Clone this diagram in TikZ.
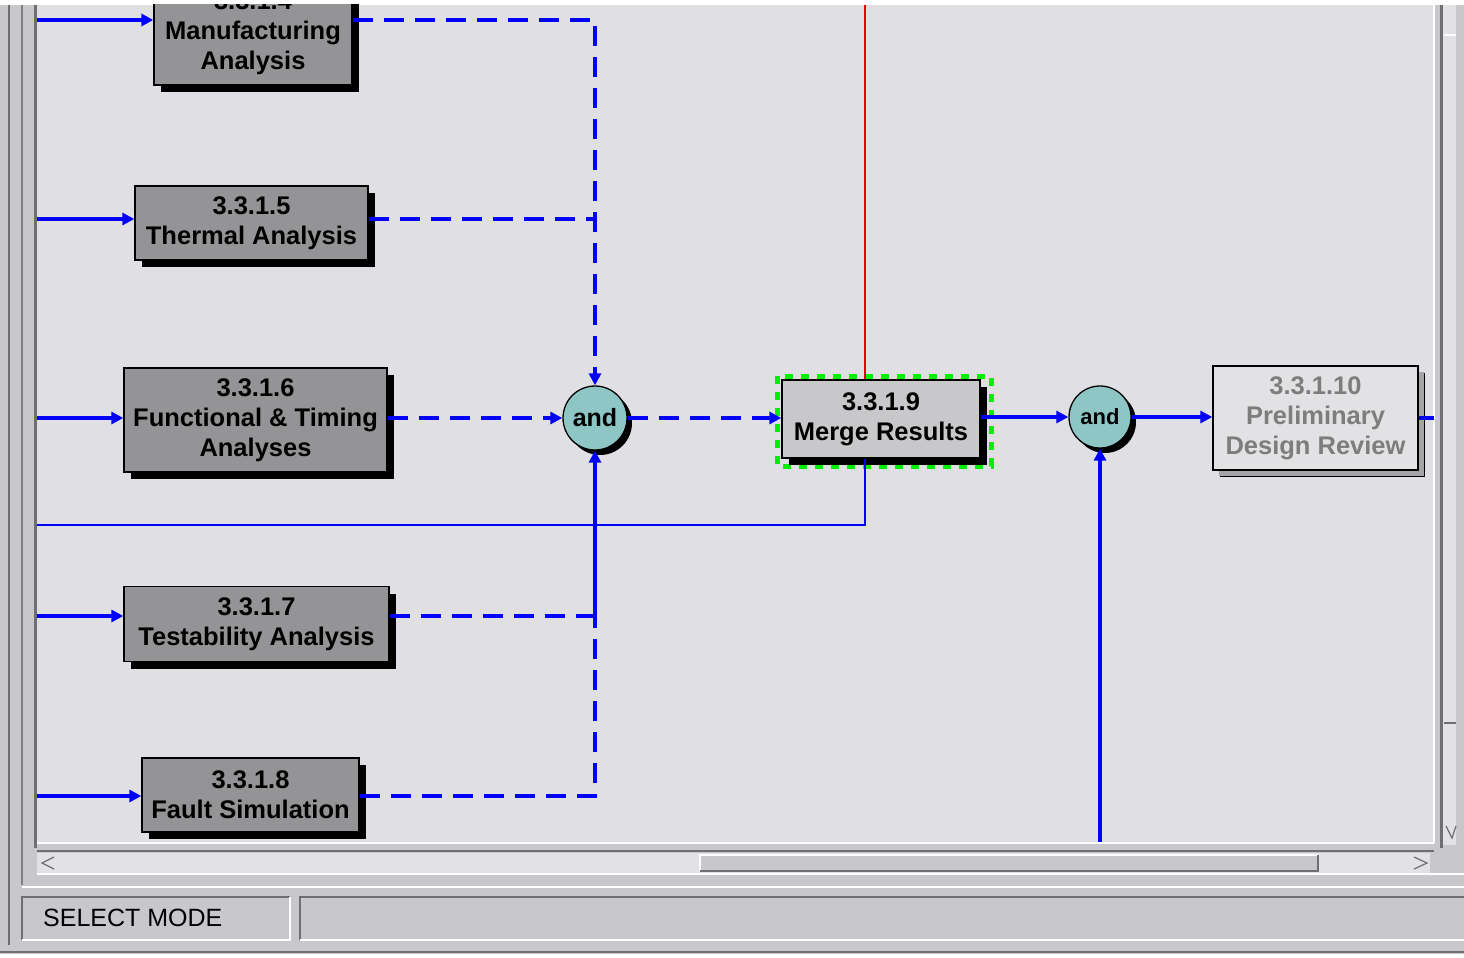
\documentclass[tikz,border=0pt]{standalone}
\usepackage{fontspec}
\setmainfont{Liberation Sans}
\usetikzlibrary{arrows.meta,shadows}
\definecolor{framebg}{RGB}{200,200,204}
\definecolor{canvasbg}{RGB}{224,224,228}
\definecolor{trackbg}{RGB}{226,226,230}
\definecolor{darkline}{RGB}{110,110,115}
\definecolor{boxgray}{RGB}{148,148,150}
\definecolor{mergegray}{RGB}{200,200,202}
\definecolor{prelimfill}{RGB}{226,226,228}
\definecolor{prelimtext}{RGB}{125,125,125}
\definecolor{prelimshadow}{RGB}{165,165,168}
\definecolor{andfill}{RGB}{142,198,198}
\definecolor{flowblue}{RGB}{0,0,250}
\definecolor{selgreen}{RGB}{0,240,0}
\definecolor{linkred}{RGB}{235,0,0}
\begin{document}
\begin{tikzpicture}[x=1pt,y=-1pt,
  box/.style={draw=black, line width=1.3pt, fill=boxgray, align=center, inner sep=0pt,
    font=\bfseries\fontsize{25.5}{30}\selectfont,
    drop shadow={shadow xshift=7pt,shadow yshift=-7pt,fill=black,opacity=1}},
  mergebox/.style={box, fill=mergegray},
  prelimbox/.style={box, fill=prelimfill, text=prelimtext,
    drop shadow={shadow xshift=6pt,shadow yshift=-6pt,fill=prelimshadow,opacity=1}},
  andnode/.style={circle, draw=black, line width=1.3pt, fill=andfill, minimum size=64pt,
    inner sep=0pt, font=\bfseries\fontsize{25}{28}\selectfont,
    drop shadow={shadow xshift=5pt,shadow yshift=-5pt,fill=black,opacity=1}},
  tip/.style={-{Triangle[length=12pt,width=12pt]}},
  flow/.style={draw=flowblue, line width=3.6pt},
  dflow/.style={flow, dash pattern=on 20pt off 11pt},
  thinflow/.style={draw=flowblue, line width=2.4pt},
  selbox/.style={draw=selgreen, line width=5pt, dash pattern=on 8pt off 8pt},
  chrome/.style={draw=darkline, line width=2.5pt},
  hilite/.style={draw=white, line width=2pt},
  statusfont/.style={font=\fontsize{25}{28}\selectfont}
]
\useasboundingbox (0,0) rectangle (1464,958);
% window chrome
\fill[framebg] (0,0) rectangle (1464,958);
\fill[white] (0,0) rectangle (1464,5);
\draw[chrome] (9,5) -- (9,945);
\draw[draw=gray, line width=2pt] (22,5) -- (22,885);
\draw[chrome, line width=3pt] (35,5) -- (35,848);
% canvas
\fill[canvasbg] (37,5) rectangle (1434,842);
\draw[hilite] (37,843) -- (1434,843);
\draw[hilite] (1434,5) -- (1434,843);
% right vertical scrollbar
\draw[chrome, line width=3pt] (1441,5) -- (1441,848);
\fill[trackbg] (1443,5) rectangle (1456,845);
\draw[hilite] (1444,35) -- (1456,35);
\draw[chrome, line width=1.5pt] (1444,723) -- (1456,723);
\draw[darkline, line width=1.2pt] (1446,826) -- (1452,838) -- (1456,826);
% horizontal scrollbar
\draw[chrome] (37,851) -- (1434,851);
\fill[trackbg] (37,853) rectangle (1430,873);
\draw[hilite] (37,874) -- (1464,874);
\fill[framebg] (700,855) rectangle (1318,871);
\draw[hilite] (700,871) -- (700,855) -- (1318,855);
\draw[chrome, line width=2pt] (700,871) -- (1318,871) -- (1318,855);
\draw[darkline, line width=1.2pt] (54,857) -- (42,863) -- (54,869);
\draw[darkline, line width=1.2pt] (1414,857) -- (1427,863) -- (1414,869);
\draw[hilite] (22,887) -- (1464,887);
% status bar
\draw[chrome, line width=2pt] (22,940) -- (22,897) -- (290,897);
\draw[hilite] (22,940) -- (290,940) -- (290,897);
\draw[chrome, line width=2pt] (300,940) -- (300,897) -- (1464,897);
\draw[hilite] (300,940) -- (1464,940);
\node[statusfont, anchor=west, inner sep=0pt] (mode) at (43,918) {SELECT MODE};
\draw[chrome] (0,952) -- (1464,952);
\fill[white] (0,954) rectangle (1464,958);

\begin{scope}
\clip (37,5) rectangle (1434,842);
% selection marker behind merge box
\draw[selbox] (777,376) rectangle (991,466);
% nodes
\node[box, minimum width=198pt, minimum height=104pt] (mfg) at (253,33) {3.3.1.4\\Manufacturing\\Analysis};
\node[box, minimum width=233pt, minimum height=74pt] (th) at (251.5,223) {3.3.1.5\\Thermal Analysis};
\node[box, minimum width=263pt, minimum height=104pt] (fn) at (255.5,420) {3.3.1.6\\Functional \& Timing\\Analyses};
\node[box, minimum width=265pt, minimum height=75pt] (ts) at (256.5,624) {3.3.1.7\\Testability Analysis};
\node[box, minimum width=217pt, minimum height=74pt] (fs) at (250.5,795) {3.3.1.8\\Fault Simulation};
\node[mergebox, minimum width=198pt, minimum height=78pt] (mr) at (881,419) {3.3.1.9\\Merge Results};
\node[prelimbox, minimum width=205pt, minimum height=104pt] (pr) at (1315.5,418) {3.3.1.10\\Preliminary\\Design Review};
\node[andnode] (and1) at (595,418) {and};
\node[andnode, minimum size=62pt, font=\bfseries\fontsize{22}{24}\selectfont] (and2) at (1100,417) {and};
% free-end coordinates
\coordinate (in1) at (37,20);
\coordinate (in2) at (37,219);
\coordinate (in3) at (37,418);
\coordinate (in4) at (37,616);
\coordinate (in5) at (37,796);
\coordinate (j1) at (595,20);
\coordinate (j2) at (595,219);
\coordinate (j4) at (595,616);
\coordinate (j5) at (595,796);
\coordinate (fb1) at (865,525);
\coordinate (fb2) at (37,525);
\coordinate (redtop) at (865,5);
\coordinate (bot2) at (1100,842);
\coordinate (outr) at (1434,418);
% inputs
\draw[flow, tip] (in1) -- (in1 -| mfg.west);
\draw[flow, tip] (in2) -- (in2 -| th.west);
\draw[flow, tip] (in3) -- (in3 -| fn.west);
\draw[flow, tip] (in4) -- (in4 -| ts.west);
\draw[flow, tip] (in5) -- (in5 -| fs.west);
% into first and
\draw[dflow, tip] (j1 -| mfg.east) -- (j1) -- (and1.north);
\draw[dflow] (j2 -| th.east) -- (j2);
\draw[dflow, tip] (in3 -| fn.east) -- (and1.west);
\draw[dflow] (j4 -| ts.east) -- (j4);
\draw[flow, tip] (j4) -- (and1.south);
\draw[dflow] (j5 -| fs.east) -- (j5) -- (j4);
% feedback and red link
\draw[thinflow] (mr.south -| fb1) -- (fb1) -- (fb2);
\draw[draw=linkred, line width=1.8pt] (redtop) -- (mr.north -| redtop);
% main chain
\draw[dflow, tip] (and1.east) -- (and1.east -| mr.west);
\draw[flow, tip] (mr.east |- and2) -- (and2.west);
\draw[flow, tip] (and2.east) -- (and2.east -| pr.west);
\draw[flow] (pr.east |- outr) -- (outr);
\draw[flow, tip] (bot2) -- (and2.south);
\end{scope}
\end{tikzpicture}
\end{document}
